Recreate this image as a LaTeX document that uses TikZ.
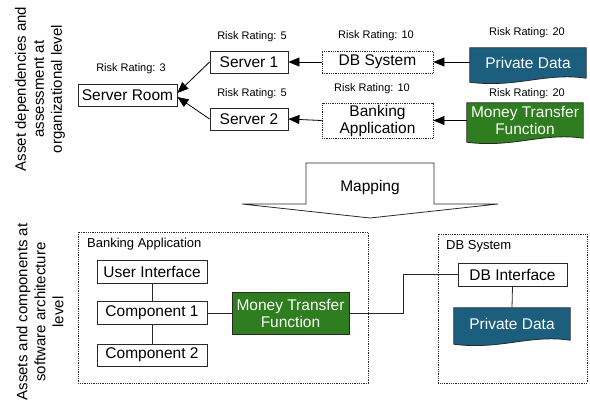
\documentclass[tikz,border=0pt]{standalone}
\usepackage{fontspec}
\setmainfont{Liberation Sans}
\usetikzlibrary{arrows.meta,calc,backgrounds}

\definecolor{datablue}{RGB}{27,94,126}
\definecolor{fngreen}{RGB}{46,125,30}
\definecolor{edgegray}{RGB}{40,40,40}

\tikzset{
  box/.style={draw=edgegray, line width=0.8pt, fill=white, inner sep=0pt,
    font=\fontsize{15.5}{17}\selectfont, align=center},
  dotbox/.style={box, densely dotted},
  risk/.style={font=\fontsize{11}{13}\selectfont, inner sep=0pt},
  wavetext/.style={inner sep=0pt, text=white, font=\fontsize{15.5}{17}\selectfont, align=center},
  depend/.style={-{Triangle[length=11pt,width=9pt]}, line width=0.8pt, draw=black},
  link/.style={line width=0.8pt, draw=edgegray},
  group/.style={draw=edgegray, line width=0.8pt, densely dotted},
  grouplabel/.style={font=\fontsize{13}{15}\selectfont, anchor=west, inner sep=0pt},
  sidelabel/.style={rotate=90, align=center, inner sep=0pt,
    font=\fontsize{15}{18}\selectfont},
}

% filled document shape with a wavy lower edge behind a text node
\newcommand{\wavedoc}[2]{%
  \begin{scope}[on background layer]
    \filldraw[fill=#2, draw=edgegray, line width=0.8pt]
      (#1.north west) -- (#1.north east) -- (#1.south east)
      .. controls ($(#1.south east)!0.35!(#1.south west)+(0,-6)$)
             and ($(#1.south east)!0.6!(#1.south west)+(0,10)$)
      .. ($(#1.south west)+(0,4)$) -- cycle;
  \end{scope}}

\begin{document}
\begin{tikzpicture}[x=1pt,y=-1pt]
\useasboundingbox (0,0) rectangle (590,408);

% ---- side captions
\node[sidelabel] (capTop) at (40,89) {Asset dependencies and\\assessment at\\organizational level};
\node[sidelabel] (capBot) at (40,312) {Assets and components at\\software architecture\\level};

% ---- organizational dependency graph
\node[box, minimum width=99pt, minimum height=22pt] (room) at (127.5,95) {Server Room};
\node[box, minimum width=78pt, minimum height=22pt] (srv1) at (249,62) {Server 1};
\node[box, minimum width=78pt, minimum height=22pt] (srv2) at (249,119) {Server 2};
\node[dotbox, minimum width=111pt, minimum height=22pt] (dbs) at (377.5,62) {DB System};
\node[dotbox, minimum width=111pt, minimum height=35pt] (bank) at (377.5,120.5) {Banking\\Application};
\node[wavetext, minimum width=116pt, minimum height=30pt] (pdTop) at (528,63) {Private Data};
\node[wavetext, minimum width=116pt, minimum height=35pt] (mtfTop) at (525,120.5) {Money Transfer\\Function};
\wavedoc{pdTop}{datablue}
\wavedoc{mtfTop}{fngreen}

\node[risk] (rRoom) at (131,69) {Risk Rating: 3};
\node[risk] (rSrv1) at (252,37) {Risk Rating: 5};
\node[risk] (rSrv2) at (252,94) {Risk Rating: 5};
\node[risk] (rDbs) at (376,36) {Risk Rating: 10};
\node[risk] (rBank) at (372,89) {Risk Rating: 10};
\node[risk] (rPd) at (527,33) {Risk Rating: 20};
\node[risk] (rMtf) at (527,94) {Risk Rating: 20};

\draw[depend] (srv1.west) -- ([yshift=2pt]room.east);
\draw[depend] (srv2.west) -- ([yshift=-2pt]room.east);
\draw[depend] (dbs.west) -- (srv1.east);
\draw[depend] (bank.west) -- (srv2.east);
\draw[depend] (pdTop.west |- dbs.east) -- (dbs.east);
\draw[depend] (mtfTop.west |- bank.east) -- (bank.east);

% ---- mapping arrow
\draw[line width=0.8pt, draw=edgegray, fill=white]
  (306,163) -- (434,163) -- (434,204) -- (498,204) -- (370,218)
  -- (242,204) -- (306,204) -- cycle;
\node[font=\fontsize{15.5}{17}\selectfont, inner sep=0pt] (map) at (370,187) {Mapping};

% ---- software architecture level
\draw[group] (78,232) rectangle (368,383);
\node[grouplabel] (gBank) at (87,244) {Banking Application};
\draw[group] (438,234) rectangle (587,383);
\node[grouplabel] (gDb) at (446,246) {DB System};

\node[box, minimum width=110pt, minimum height=23pt] (ui) at (152,271.5) {User Interface};
\node[box, minimum width=110pt, minimum height=23pt] (c1) at (152,313) {Component 1};
\node[box, minimum width=110pt, minimum height=22pt] (c2) at (152,355) {Component 2};
\node[box, fill=fngreen, text=white, minimum width=117pt, minimum height=42pt] (mtf) at (290.5,313) {Money Transfer\\Function};
\node[box, minimum width=109pt, minimum height=23pt] (dbi) at (512.5,274.5) {DB Interface};
\node[wavetext, minimum width=116pt, minimum height=32pt] (pd) at (512,324) {Private Data};
\wavedoc{pd}{datablue}

\draw[link] (ui.south) -- (c1.north);
\draw[link] (c1.south) -- (c2.north);
\draw[link] (c1.east) -- (mtf.west);
\draw[link] (mtf.east) -- ++(54,0) |- (dbi.west);
\draw[link] (dbi.south) -- (pd.north);
\end{tikzpicture}
\end{document}
